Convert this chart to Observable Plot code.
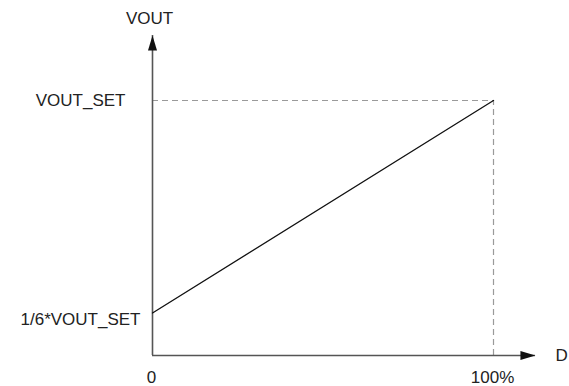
<!DOCTYPE html>
<html>
<head>
<meta charset="utf-8">
<script src="https://cdn.jsdelivr.net/npm/d3@7"></script>
<script src="https://cdn.jsdelivr.net/npm/@observablehq/plot@0.6"></script>
<style>
  html, body { margin: 0; padding: 0; background: #fff; }
  #chart { width: 569px; height: 386px; overflow: hidden; }
</style>
</head>
<body>
<div id="chart"></div>
<script>
// Duty cycle D (fraction) and output voltage (fraction of VOUT_SET)
const duty = [0, 1];
const vout = [1 / 6, 1];

// Axis extents (data units) where the arrows end
const xAxisEnd = 1.123;
const yAxisEnd = 1.255;

// Labels
const xTickValues = [0, 1];
const xTickLabels = ["0", "100%"];
const yLabelValues = [1, 1 / 6];
const yLabelTexts = ["VOUT_SET", "1/6*VOUT_SET"];
const xAxisTitle = "D";
const yAxisTitle = "VOUT";

const lineData = duty.map((d, i) => ({D: d, V: vout[i]}));

const arrowRight = {
  draw(ctx) { ctx.moveTo(0, 0); ctx.lineTo(-15, -4.5); ctx.lineTo(-15, 4.5); ctx.closePath(); }
};
const arrowUp = {
  draw(ctx) { ctx.moveTo(0, 0); ctx.lineTo(-4.5, 15); ctx.lineTo(4.5, 15); ctx.closePath(); }
};

const font = "Liberation Sans, Arial, sans-serif";
const textColor = "#222";
const axisColor = "#555";

const chart = Plot.plot({
  width: 569,
  height: 386,
  marginLeft: 152,
  marginRight: 76,
  marginTop: 100,
  marginBottom: 31,
  x: {domain: [0, 1], axis: null},
  y: {domain: [0, 1], axis: null},
  style: {background: "#fff", fontFamily: font, fontSize: "17px"},
  marks: [
    // dashed guides
    Plot.ruleY([1], {x1: 0, x2: 1, stroke: "#9a9a9a", strokeWidth: 1.2, strokeDasharray: "6,4"}),
    Plot.ruleX([1], {y1: 0, y2: 1, stroke: "#9a9a9a", strokeWidth: 1.2, strokeDasharray: "6,4"}),
    // axes
    Plot.ruleY([0], {x1: 0, x2: xAxisEnd, stroke: axisColor, strokeWidth: 1.6}),
    Plot.ruleX([0], {y1: 0, y2: yAxisEnd, stroke: axisColor, strokeWidth: 1.6}),
    Plot.dot([0], {x: xAxisEnd, y: 0, symbol: arrowRight, fill: "#111", stroke: "none"}),
    Plot.dot([0], {x: 0, y: yAxisEnd, symbol: arrowUp, fill: "#111", stroke: "none"}),
    // data line
    Plot.line(lineData, {x: "D", y: "V", stroke: "#111", strokeWidth: 1.3}),
    // tick labels
    Plot.text(xTickValues, {x: d => d, y: 0, text: (d, i) => xTickLabels[i], dy: 22, dx: -1, fill: textColor, fontSize: 17}),
    Plot.text([yLabelValues[0]], {x: 0, y: d => d, text: () => yLabelTexts[0], textAnchor: "end", dx: -27, fill: textColor, fontSize: 17}),
    Plot.text([yLabelValues[1]], {x: 0, y: d => d, text: () => yLabelTexts[1], textAnchor: "end", dx: -12, dy: 7, fill: textColor, fontSize: 17}),
    // axis titles
    Plot.text([xAxisTitle], {x: xAxisEnd, y: 0, text: d => d, textAnchor: "start", dx: 20, fill: textColor, fontSize: 17}),
    Plot.text([yAxisTitle], {x: 0, y: yAxisEnd, text: d => d, dy: -17, dx: -3, fill: textColor, fontSize: 17})
  ]
});
document.getElementById("chart").appendChild(chart);
</script>
</body>
</html>
